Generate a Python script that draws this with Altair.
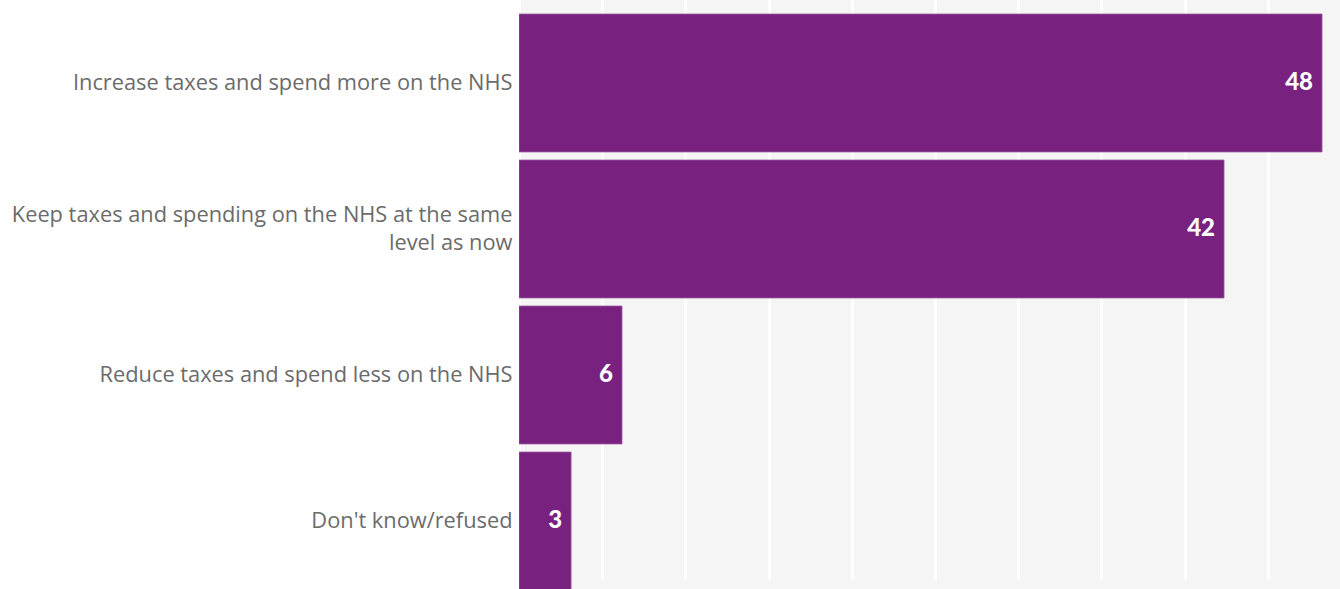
import altair as alt
import pandas as pd

categories = [
    "Increase taxes and spend more on the NHS",
    "Keep taxes and spending on the NHS at the same|level as now",
    "Reduce taxes and spend less on the NHS",
    "Don't know/refused",
]
values = [48.26, 42.37, 6.19, 3.13]
grid_ticks = [0, 5, 10, 15, 20, 25, 30, 35, 40, 45]

df = pd.DataFrame({"category": categories, "value": values})

LABEL_FONT = "Open Sans"
VALUE_FONT = "Lato"
PURPLE = "#78217f"
XMAX = 49.34

y_enc = alt.Y(
    "category:N",
    sort=categories,
    title=None,
    scale=alt.Scale(range=[10, 594], paddingInner=0.055, paddingOuter=0.0274),
    axis=alt.Axis(
        domain=False,
        ticks=False,
        labelPadding=7,
        labelFontSize=21.8,
        labelColor="#6b6b6b",
        labelFont=LABEL_FONT,
        labelLimit=520,
        labelLineHeight=28,
        labelExpr="split(datum.label, '|')",
        labelOffset={
            "condition": {"test": "indexof(datum.value, '|') >= 0", "value": -14},
            "value": 0,
        },
    ),
)
x_enc = alt.X(
    "value:Q",
    title=None,
    scale=alt.Scale(domain=[0, XMAX], nice=False, zero=True),
    axis=alt.Axis(
        values=grid_ticks,
        labels=False,
        ticks=False,
        domain=False,
        grid=True,
        gridColor="#ffffff",
        gridWidth=3,
    ),
)

bars = alt.Chart(df).mark_bar(
    color=PURPLE, clip=True, stroke="#9d5ca3", strokeWidth=0.8
).encode(x=x_enc, y=y_enc)

labels = alt.Chart(df).mark_text(
    align="right",
    baseline="middle",
    dx=-9,
    color="white",
    fontWeight=900,
    fontSize=24,
    font=VALUE_FONT,
    clip=True,
).encode(
    x=alt.X("value:Q", scale=alt.Scale(domain=[0, XMAX], nice=False, zero=True)),
    y=alt.Y("category:N", sort=categories),
    text=alt.Text("value:Q", format=".0f"),
)

chart = (
    alt.layer(bars, labels)
    .properties(
        width=821,
        height=589,
        autosize=alt.AutoSizeParams(type="none"),
        padding={"left": 519, "top": 0, "right": 0, "bottom": 0},
        background="#ffffff",
    )
    .configure_view(fill="#f5f5f5", stroke=None)
)

chart.save("out.html", embed_options={"renderer": "svg", "actions": False})
